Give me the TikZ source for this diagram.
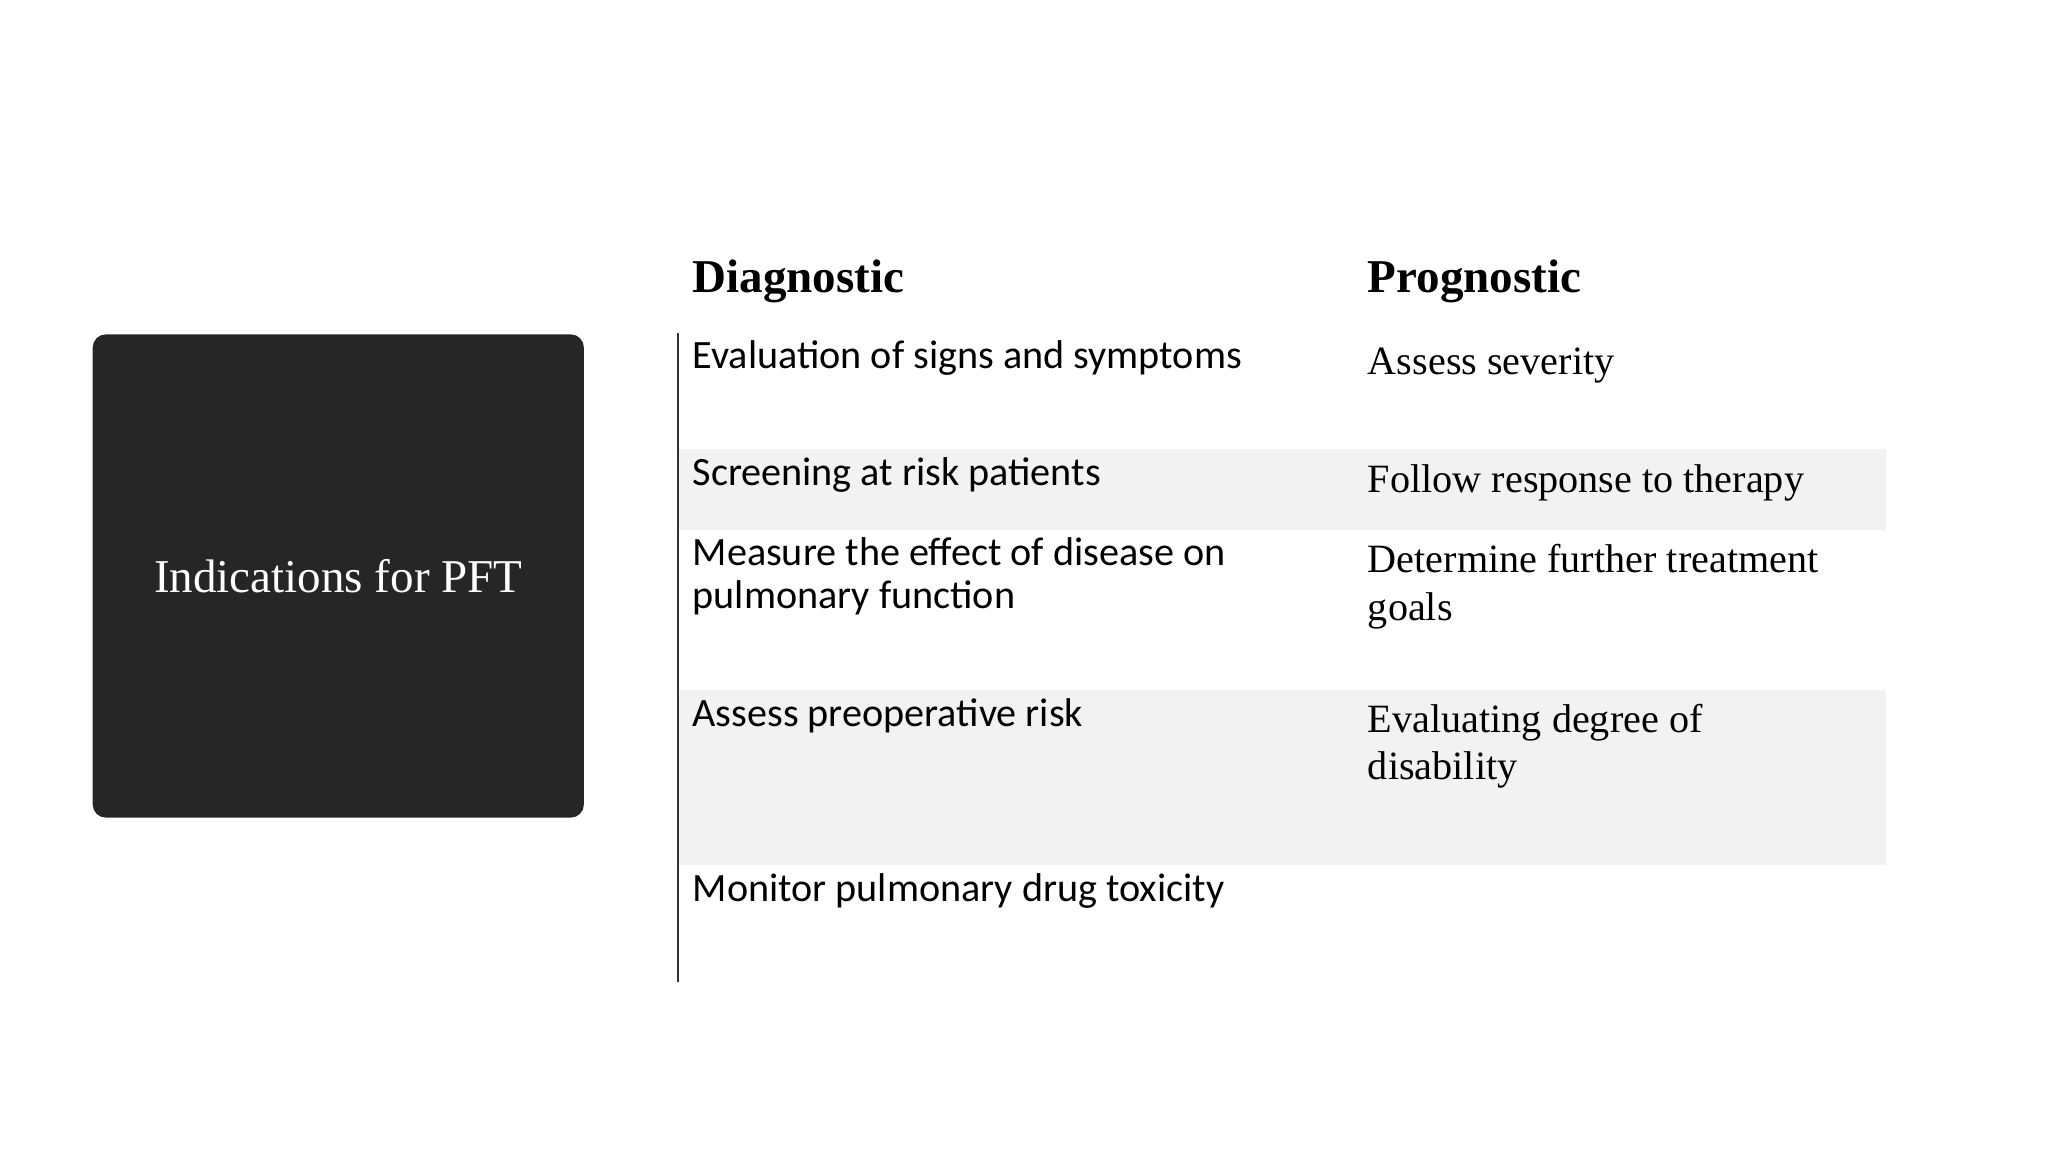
\documentclass[tikz,border=0pt]{standalone}
\usepackage{fontspec}
\setmainfont{Liberation Serif}
\newfontfamily\calfont{Carlito}
\definecolor{boxdark}{HTML}{262626}
\definecolor{rowgray}{HTML}{F2F2F2}
\begin{document}
\begin{tikzpicture}[x=0.02cm,y=-0.02cm,
  dtxt/.style={anchor=base west,inner sep=0pt,font=\calfont\fontsize{17.5}{20}\selectfont},
  ptxt/.style={anchor=base west,inner sep=0pt,font=\fontsize{17.5}{20}\selectfont},
  head/.style={anchor=base west,inner sep=0pt,font=\bfseries\fontsize{20.5}{24}\selectfont}]
\useasboundingbox (0,0) rectangle (1568,882);
\fill[rowgray] (519,344) rectangle (1444,406);
\fill[rowgray] (519,528) rectangle (1444,662);
\fill[boxdark,rounded corners=0.2cm] (71,256) rectangle (447,626);
\node[text=white,font=\fontsize{20.5}{24}\selectfont] (title) at (259,441) {Indications for PFT};
\coordinate (lt) at (519,255);
\coordinate (lb) at (519,752);
\draw[line width=0.6pt,black!80] (lt) -- (lb);
\node[head] (hd) at (530,224) {Diagnostic};
\node[head] (hp) at (1047,224) {Prognostic};
\node[dtxt] (d1) at (530,282) {Evaluation of signs and symptoms};
\node[dtxt] (d2) at (530,372) {Screening at risk patients};
\node[dtxt] (d3) at (530,433) {Measure the effect of disease on};
\node[dtxt] (d3b) at (530,466) {pulmonary function};
\node[dtxt] (d4) at (530,556) {Assess preoperative risk};
\node[dtxt] (d5) at (530,690) {Monitor pulmonary drug toxicity};
\node[ptxt] (p1) at (1047,287) {Assess severity};
\node[ptxt] (p2) at (1047,377) {Follow response to therapy};
\node[ptxt] (p3) at (1047,438) {Determine further treatment};
\node[ptxt] (p3b) at (1047,475) {goals};
\node[ptxt] (p4) at (1047,561) {Evaluating degree of};
\node[ptxt] (p4b) at (1047,597) {disability};
\end{tikzpicture}
\end{document}
